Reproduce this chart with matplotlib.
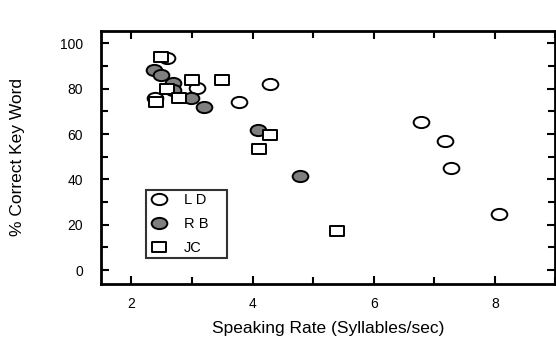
import numpy as np
import matplotlib
matplotlib.use("Agg")
import matplotlib.pyplot as plt
from matplotlib.path import Path
from matplotlib.transforms import Affine2D
from matplotlib.ticker import MultipleLocator

plt.rcParams['font.family'] = ['Liberation Sans', 'DejaVu Sans']

# Data
ld_x = [2.59, 4.28, 3.09, 2.39, 3.78, 6.78, 7.17, 7.27, 8.07]
ld_y = [93.5, 82.2, 80.2, 76.1, 74.4, 65.2, 56.8, 45.1, 24.8]
rb_x = [2.38, 2.49, 2.69, 2.68, 2.99, 3.19, 4.09, 4.78]
rb_y = [88.4, 86.3, 82.5, 79.6, 76.1, 72.1, 62.0, 41.7]
jc_x = [2.49, 3.00, 3.50, 2.58, 2.40, 2.79, 4.29, 4.10, 5.39]
jc_y = [94.0, 84.1, 84.1, 79.9, 74.0, 75.8, 59.8, 53.6, 17.3]
series_names = ["L D", "R B", "JC"]

ellipse = Path.unit_circle().transformed(Affine2D().scale(1.4, 1.0))
rect = Path([(-1.3, -1), (1.3, -1), (1.3, 1), (-1.3, 1), (-1.3, -1)],
            [Path.MOVETO, Path.LINETO, Path.LINETO, Path.LINETO, Path.CLOSEPOLY])

fig = plt.figure(figsize=(5.56, 3.41), dpi=100)
ax = fig.add_axes([0.182, 0.168, 0.817, 0.741])

kw = dict(linestyle='none', markeredgecolor='black', markeredgewidth=1.4)
ax.plot(ld_x, ld_y, marker=ellipse, markersize=11.3, markerfacecolor='white',
        label=series_names[0], **kw)
ax.plot(rb_x, rb_y, marker=ellipse, markersize=11.3, markerfacecolor='#7f7f7f',
        label=series_names[1], **kw)
ax.plot(jc_x, jc_y, marker=rect, markersize=9.5, markerfacecolor='white',
        label=series_names[2], **kw)

ax.set_xlim(1.5, 9.0)
ax.set_ylim(-6, 105.5)
ax.xaxis.set_major_locator(MultipleLocator(2))
ax.xaxis.set_minor_locator(MultipleLocator(1))
ax.yaxis.set_major_locator(MultipleLocator(20))
ax.yaxis.set_minor_locator(MultipleLocator(10))
ax.tick_params(which='both', direction='in', top=True, right=True, width=1.5,
               labelsize=10, colors='black')
ax.tick_params(which='major', length=6)
ax.tick_params(which='minor', length=5)
ax.tick_params(axis='x', which='major', pad=9.5)
ax.tick_params(axis='y', which='major', pad=13)
for s in ax.spines.values():
    s.set_linewidth(2)

ax.set_xlabel("Speaking Rate (Syllables/sec)", fontsize=12.5, labelpad=7)
ax.set_ylabel("% Correct Key Word", fontsize=12.5, labelpad=25)

leg = ax.legend(loc='lower left', bbox_to_anchor=(0.099, 0.102, 0.178, 0.26),
                mode='expand', frameon=True,
                fancybox=False, edgecolor='black', fontsize=10.5,
                handlelength=1.3, handletextpad=1.1, borderpad=0.2,
                labelspacing=0.7, borderaxespad=0)
leg.get_frame().set_linewidth(1.5)

fig.savefig("out.png", dpi=100)
